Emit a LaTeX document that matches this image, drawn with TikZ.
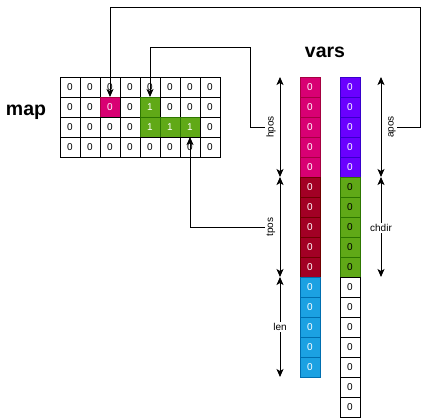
\documentclass[tikz,border=0pt]{standalone}
\usepackage{fontspec}
\setmainfont{Liberation Sans}
\usetikzlibrary{arrows.meta,calc}
\definecolor{magF}{HTML}{D80073}\definecolor{magS}{HTML}{A50040}
\definecolor{redF}{HTML}{A20025}\definecolor{redS}{HTML}{6F0000}
\definecolor{bluF}{HTML}{1BA1E2}\definecolor{bluS}{HTML}{006EAF}
\definecolor{purF}{HTML}{6A00FF}\definecolor{purS}{HTML}{3700CC}
\definecolor{grnF}{HTML}{60A917}\definecolor{grnS}{HTML}{2D7600}
\begin{document}
\begin{tikzpicture}[x=1bp,y=-1bp,
  cell/.style={rectangle, minimum width=20bp, minimum height=20bp, inner sep=0pt, outer sep=0pt,
    line width=0.9bp, font=\fontsize{10bp}{12bp}\selectfont},
  stw/.style={draw=black, fill=white, text=black, node contents=0},
  stm/.style={draw=magS, fill=magF, text=white, node contents=0},
  stg/.style={draw=grnS, fill=grnF, text=white, node contents=1},
  str/.style={draw=redS, fill=redF, text=white, node contents=0},
  stb/.style={draw=bluS, fill=bluF, text=white, node contents=0},
  stp/.style={draw=purS, fill=purF, text=white, node contents=0},
  stk/.style={draw=grnS, fill=grnF, text=black, node contents=0},
  lab/.style={inner sep=1.5bp, font=\fontsize{10bp}{12bp}\selectfont},
  title/.style={inner sep=0pt, font=\fontsize{19.5bp}{22bp}\selectfont\bfseries},
  arr/.style={line width=0.9bp, -{Stealth[length=8bp,width=7bp,inset=2bp]}},
  dbl/.style={line width=0.9bp, {Stealth[length=8bp,width=7bp,inset=2bp]}-{Stealth[length=8bp,width=7bp,inset=2bp]}}
]
\useasboundingbox (0,0) rectangle (429,418);

% titles
\node[title] (map) at (26,112.7) {map};
\node[title] (vars) at (325,52) {vars};

% map grid
\foreach \row [count=\r from 0] in {{w,w,w,w,w,w,w,w},{w,w,m,w,g,w,w,w},{w,w,w,w,g,g,g,w},{w,w,w,w,w,w,w,w}}
  \foreach \s [count=\c from 0] in \row
    \node[cell, name=m-\r-\c, at={({70+20*\c},{87+20*\r})}, st\s];

% vars columns
\foreach \s [count=\k from 0] in {m,m,m,m,m,r,r,r,r,r,b,b,b,b,b}
  \node[cell, name=v1-\k, at={(310,{87+20*\k})}, st\s];
\foreach \s [count=\k from 0] in {p,p,p,p,p,k,k,k,k,k,w,w,w,w,w,w,w}
  \node[cell, name=v2-\k, at={(350,{87+20*\k})}, st\s];

% measure arrows
\coordinate (hx) at (280,0);
\coordinate (ax) at (381,0);
\draw[dbl] (v1-0.north -| hx) -- (v1-4.south -| hx);
\draw[dbl] (v1-5.north -| hx) -- (v1-9.south -| hx);
\draw[dbl] (v1-10.north -| hx) -- (v1-14.south -| hx);
\draw[dbl] (v2-0.north -| ax) -- (v2-4.south -| ax);
\draw[dbl] (v2-5.north -| ax) -- (v2-9.south -| ax);

% labels
\node[lab, rotate=90] (hpos) at (271,127) {hpos};
\node[lab, rotate=90] (tpos) at (271,227) {tpos};
\node[lab, fill=white] (len) at (280,327) {len};
\node[lab, rotate=90] (apos) at (392,127) {apos};
\node[lab, fill=white] (chdir) at (381,228) {chdir};

% connectors
\coordinate (a1) at (420,127);
\coordinate (a2) at (420,7);
\draw[arr] (apos) -- (a1) -- (a2) -| (m-1-2.north);
\coordinate (h1) at (250,127);
\coordinate (h2) at (250,47);
\draw[arr] (hpos) -- (h1) -- (h2) -| (m-1-4.north);
\draw[arr] (tpos) -| (m-2-6.south);
\end{tikzpicture}
\end{document}
